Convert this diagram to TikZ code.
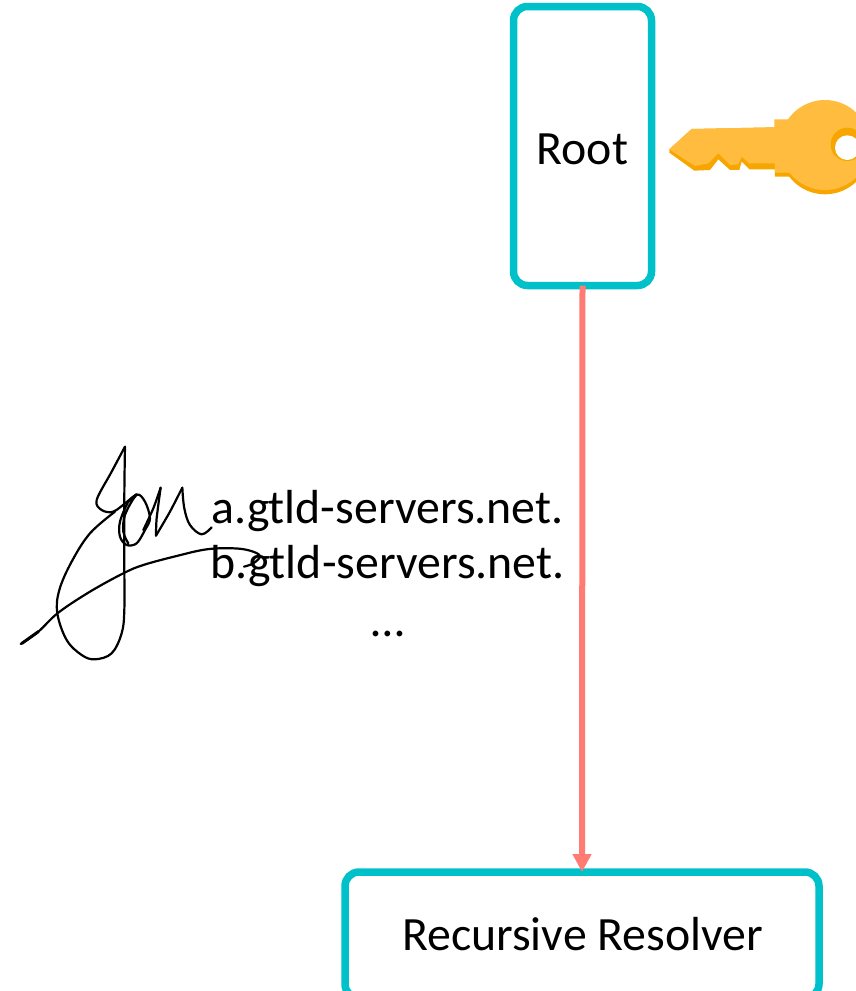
\documentclass[tikz,border=0pt]{standalone}
\usepackage{fontspec}
\setmainfont{Carlito}
\usetikzlibrary{arrows.meta}
\definecolor{teal}{HTML}{00C1C9}
\definecolor{salmon}{HTML}{FF7B73}
\definecolor{keylight}{HTML}{FFBC3F}
\definecolor{keydark}{HTML}{F7A600}
\tikzset{
  box/.style={draw=teal,line width=7.5pt,rounded corners=14pt,fill=white,inner sep=0pt,outer sep=0pt},
  boxtext/.style={text=black,font=\fontsize{47.8}{55}\selectfont,inner sep=0pt,anchor=base},
  conn/.style={draw=salmon,line width=6pt,-{Triangle[width=18pt,length=18pt]}},
  labeltext/.style={font=\fontsize{47.8}{55}\selectfont,align=center,inner sep=0pt,text=black},
  sig/.style={draw=black,line width=2.2pt,line cap=round,line join=round}
}
\begin{document}
\begin{tikzpicture}[x=1pt,y=-1pt]
\useasboundingbox (0,0) rectangle (856,991);
\clip (0,0) rectangle (856,991);
\node[box,minimum width=138pt,minimum height=279pt] (root) at (582.5,146) {};
\node[boxtext] (roottext) at (582.5,164) {Root};
\node[box,minimum width=474pt,minimum height=126pt] (resolver) at (582,935) {};
\node[boxtext] (resolvertext) at (582.5,950) {Recursive Resolver};
\draw[conn] (root.south) -- (resolver.north);
\node[labeltext,anchor=base] (line) at (387.5,636) {a.gtld-servers.net.\\b.gtld-servers.net.\\[3pt]…};
% key
\begin{scope}[shift={(650,80)},x=0.3333pt,y=0.3333pt,yscale=-1]
\fill[keydark] (58,208) -- (58,218) -- (133,272) -- (180,270) -- (205,238) -- (240,270) -- (268,270) -- (275,245) -- (298,268) -- (375,268) -- (375,290) -- (430,290) -- (500,200) -- (373,142) -- (125,147) -- cycle;
\fill[keydark] (525,208) circle[radius=135];
\fill[keylight] (58,208) -- (125,147) -- (373,142) -- (373,118) -- (420,118) -- (480,200) -- (420,278) -- (375,278) -- (375,250) -- (298,250) -- (275,230) -- (265,253) -- (240,255) -- (205,220) -- (175,250) -- (135,258) -- cycle;
\fill[keylight] (525,195) circle[radius=135];
\fill[keydark] (592,193) circle[radius=50];
\fill[white] (592,203) circle[radius=37];
\end{scope}
% signature
\begin{scope}[shift={(0,430)},x=0.3333pt,y=0.3333pt,yscale=-1]
\draw[sig] plot[smooth,tension=0.6] coordinates {(62,642) (115,605) (175,548) (270,485) (370,430) (430,405) (530,378) (620,358) (700,355) (750,362) (780,378) (760,400) (732,410)};
\draw[sig,line width=3pt] (66,640) -- (115,605);
\draw[sig] plot[smooth,tension=0.55] coordinates {(375,50) (335,125) (290,210) (305,240) (340,245) (385,212) (410,193)};
\draw[sig] plot[smooth,tension=0.6] coordinates {(345,245) (270,310) (215,395) (178,480) (172,550) (200,630) (245,675) (285,688) (335,670) (365,610) (373,540) (373,400) (373,200) (375,50)};
\draw[sig] plot[smooth,tension=0.55] coordinates {(410,193) (385,215) (360,275) (360,320) (380,345) (410,340) (435,300) (450,265) (435,215) (410,195) (375,255) (370,305) (385,340)};
\draw[sig] plot[smooth,tension=0.45] coordinates {(430,300) (460,235) (482,173)};
\draw[sig] plot[smooth,tension=0.45] coordinates {(482,173) (470,265) (468,317)};
\draw[sig] plot[smooth,tension=0.45] coordinates {(468,317) (510,245) (547,173)};
\draw[sig] plot[smooth,tension=0.6] coordinates {(547,173) (553,235) (570,285) (605,313) (635,292)};
\end{scope}
\end{tikzpicture}
\end{document}
